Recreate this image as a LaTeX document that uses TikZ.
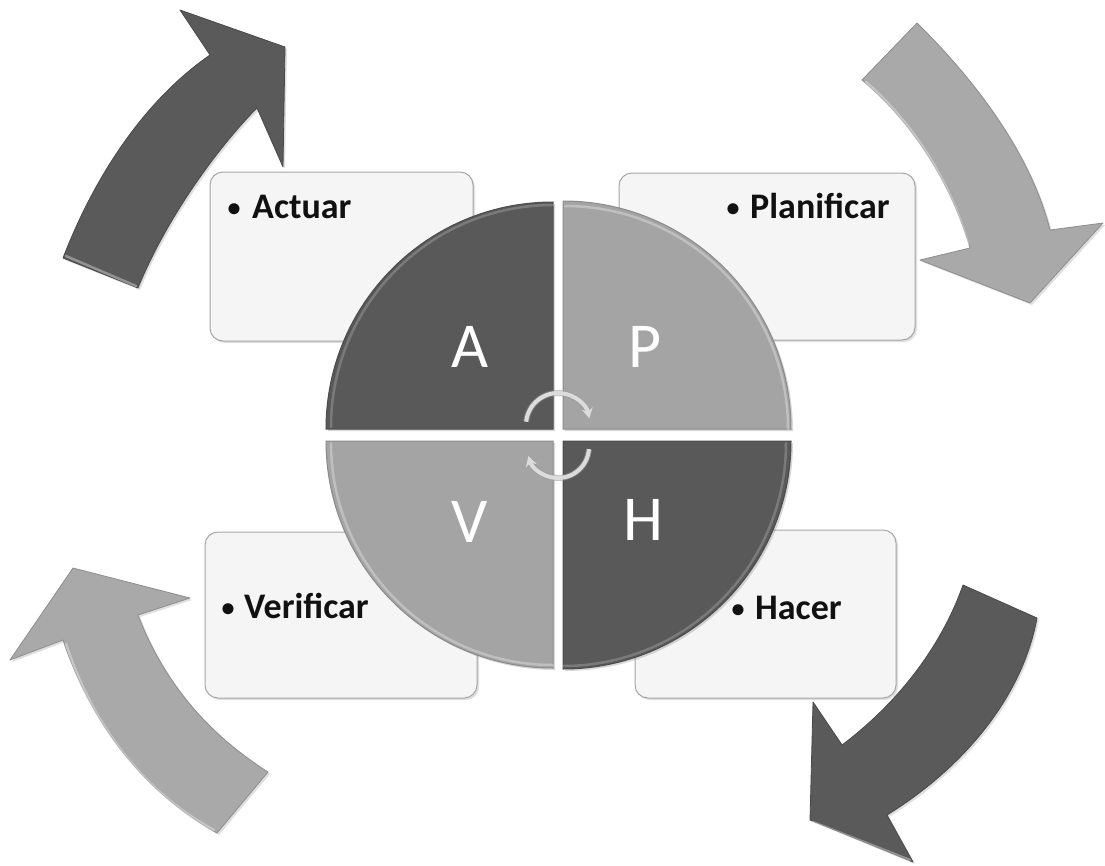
\documentclass[tikz,border=0pt]{standalone}
\usepackage{fontspec}
\setmainfont{Carlito}
\usetikzlibrary{arrows.meta,shadows}
\definecolor{arrowdark}{HTML}{5A5A5A}
\definecolor{arrowdarkedge}{HTML}{4A4A4A}
\definecolor{arrowlight}{HTML}{A9A9A9}
\definecolor{arrowlightedge}{HTML}{8E8E8E}
\definecolor{quaddarkc}{HTML}{595959}
\definecolor{quadlightc}{HTML}{A4A4A4}
\definecolor{boxfill}{HTML}{F5F5F5}
\definecolor{boxedge}{HTML}{A6A6A6}
\definecolor{cyclec}{HTML}{DCDCDC}
\definecolor{textc}{HTML}{111111}
\begin{document}
\begin{tikzpicture}[x=1pt,y=-1pt,
  darkarrow/.style={fill=arrowdark, draw=arrowdarkedge, line width=0.8pt, line join=round,
    drop shadow={opacity=0.25,shadow xshift=2pt,shadow yshift=-2pt}},
  lightarrow/.style={fill=arrowlight, draw=arrowlightedge, line width=0.8pt, line join=round,
    drop shadow={opacity=0.25,shadow xshift=2pt,shadow yshift=-2pt}},
  highlight/.style={draw=white, opacity=0.35, line width=2.5pt, line cap=round},
  infobox/.style={fill=boxfill, draw=boxedge, line width=1pt, rounded corners=13pt,
    drop shadow={opacity=0.25,shadow xshift=2pt,shadow yshift=-2pt}},
  quaddark/.style={fill=quaddarkc, draw=quaddarkc!85!black, line width=1pt,
    drop shadow={opacity=0.3,shadow xshift=2pt,shadow yshift=-2pt}},
  quadlight/.style={fill=quadlightc, draw=quadlightc!85!black, line width=1pt,
    drop shadow={opacity=0.3,shadow xshift=2pt,shadow yshift=-2pt}},
  bigletter/.style={text=white, font=\fontsize{64}{64}\selectfont, inner sep=0pt},
  boxtext/.style={text=textc, font=\fontsize{36}{36}\selectfont\bfseries, inner sep=0pt, anchor=base west},
  bulletmark/.style={text=textc, font=\fontsize{26}{26}\selectfont\bfseries, inner sep=0pt, anchor=base},
  cyclearc/.style={draw=cyclec, line width=4pt, -{Stealth[length=10pt,width=11pt]}},
  cycleshadow/.style={draw=gray!80, line width=6pt, opacity=0.55}
]
\useasboundingbox (0,0) rectangle (1105,865);
\fill[white] (0,0) rectangle (1105,865);

% ---- big curved arrows ----
% top-left (dark)
\path[darkarrow] (63,258) .. controls (95,175) and (145,100) .. (210,55) -- (180,10) -- (285,47)
  -- (283,167) -- (257,108) .. controls (225,140) and (170,210) .. (138,288) -- cycle;
\path[highlight] (66,256) -- (136,286);
% top-right (light)
\path[lightarrow] (862,80) -- (917,23) .. controls (970,75) and (1030,150) .. (1050,230)
  -- (1103,223) -- (1030,303) -- (920,260) -- (970,248) .. controls (950,180) and (910,120) .. (862,80) -- cycle;
\path[highlight] (866,82) .. controls (912,122) and (950,180) .. (968,244);
% bottom-right (dark)
\path[darkarrow] (963,585) -- (1037,618) .. controls (1022,700) and (960,770) .. (887,815)
  -- (913,862) -- (810,820) -- (813,702) -- (842,745) .. controls (895,705) and (940,650) .. (963,585) -- cycle;
\path[highlight] (813,822) -- (910,860);
% bottom-left (light)
\path[lightarrow] (217,833) .. controls (140,790) and (90,720) .. (63,640) -- (10,660) -- (73,568)
  -- (190,598) -- (138,615) .. controls (165,685) and (210,735) .. (268,772) -- cycle;
\path[highlight] (66,644) .. controls (92,722) and (140,790) .. (214,830);

% ---- text boxes ----
\path[infobox] (210,172) rectangle (473,341);
\path[infobox] (619,173) rectangle (915,340);
\path[infobox] (205,532) rectangle (477,698);
\path[infobox] (635,530) rectangle (896,698);

\node[bulletmark] (bA) at (234,216) {•};
\node[boxtext] (tA) at (252,218) {Actuar};
\node[bulletmark] (bP) at (733,216) {•};
\node[boxtext] (tP) at (750,218) {Planificar};
\node[bulletmark] (bV) at (228,616) {•};
\node[boxtext] (tV) at (244,618) {Verificar};
\node[bulletmark] (bH) at (738,617) {•};
\node[boxtext] (tH) at (755,619) {Hacer};

% ---- quadrants ----
\path[quaddark] (553,429) -- (326,429) arc[start angle=180, end angle=270, radius=227] -- cycle;
\path[quadlight] (563,429) -- (563,201) arc[start angle=270, end angle=360, radius=228] -- cycle;
\path[quaddark] (563,441) -- (791,441) arc[start angle=0, end angle=90, radius=228] -- cycle;
\path[quadlight] (553,441) -- (553,668) arc[start angle=90, end angle=180, radius=227] -- cycle;
% bevel highlights
\draw[highlight, opacity=0.2] (331,427) arc[start angle=180, end angle=270, radius=222];
\draw[highlight, opacity=0.3] (565,206) arc[start angle=270, end angle=360, radius=223];
\draw[highlight, opacity=0.2] (786,443) arc[start angle=0, end angle=90, radius=223];
\draw[highlight, opacity=0.3] (331,443) arc[start angle=180, end angle=90, radius=222];

\node[bigletter] (qA) at (470,347) {A};
\node[bigletter] (qP) at (645,347) {P};
\node[bigletter] (qV) at (470,522) {V};
\node[bigletter] (qH) at (643,520) {H};

% ---- small cycle arrows at centre ----
\coordinate (cu) at (558,425);
\coordinate (cl) at (558,447);
\draw[cycleshadow] ([shift={(186:32)}]cu) arc[start angle=186, end angle=338, radius=32];
\draw[cyclearc] ([shift={(186:32)}]cu) arc[start angle=186, end angle=348, radius=32];
\draw[cycleshadow] ([shift={(4:31)}]cl) arc[start angle=4, end angle=153, radius=31];
\draw[cyclearc] ([shift={(4:31)}]cl) arc[start angle=4, end angle=163, radius=31];
\end{tikzpicture}
\end{document}
